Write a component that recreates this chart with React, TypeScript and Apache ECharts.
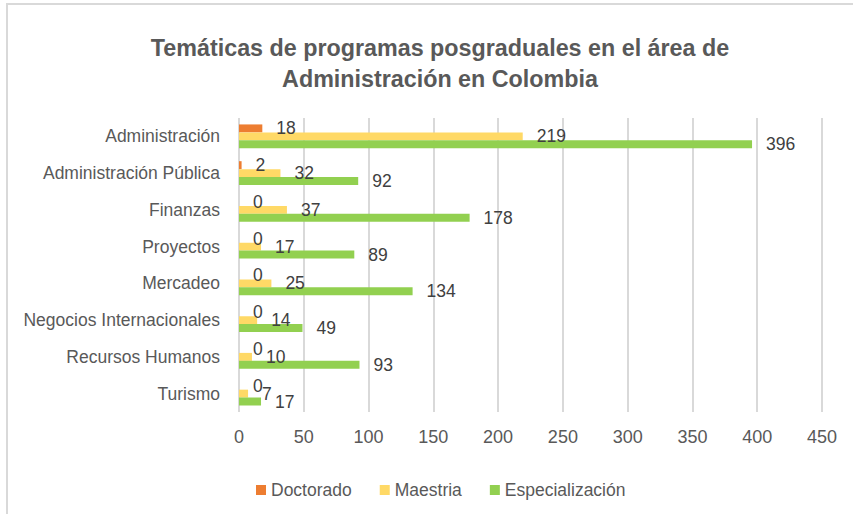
import React, { useEffect, useRef } from "react";
import * as echarts from "echarts";

const categories = [
  "Administración",
  "Administración Pública",
  "Finanzas",
  "Proyectos",
  "Mercadeo",
  "Negocios Internacionales",
  "Recursos Humanos",
  "Turismo",
];
const doctorado = [18, 2, 0, 0, 0, 0, 0, 0];
const maestria = [219, 32, 37, 17, 25, 14, 10, 7];
const especializacion = [396, 92, 178, 89, 134, 49, 93, 17];
const titleText = "Temáticas de programas posgraduales en el área de\nAdministración en Colombia";

const FONT = '"Liberation Sans", Arial, sans-serif';

export default function App() {
  const ref = useRef<HTMLDivElement>(null);
  useEffect(() => {
    if (!ref.current) return;
    const chart = echarts.init(ref.current, null, { renderer: "svg" });
    const label = {
      show: true,
      position: "right" as const,
      distance: 14,
      color: "#404040",
      fontSize: 17.5,
      fontFamily: FONT,
    };
    const mk = (name: string, data: number[], color: string) => ({
      name,
      type: "bar" as const,
      data,
      barGap: "0%",
      barCategoryGap: "35%",
      itemStyle: { color },
      label,
    });
    chart.setOption({
      animation: false,
      backgroundColor: "#ffffff",
      title: {
        text: titleText,
        left: 435,
        top: 27,
        textAlign: "center",
        textStyle: {
          fontFamily: FONT,
          fontSize: 23.3,
          fontWeight: "bold",
          color: "#595959",
          lineHeight: 31,
        },
      },
      graphic: [
        { type: "rect", shape: { x: 6, y: 3, width: 847, height: 2 }, style: { fill: "#D9D9D9" }, silent: true },
        { type: "rect", shape: { x: 6, y: 3, width: 2, height: 511 }, style: { fill: "#D9D9D9" }, silent: true },
      ],
      legend: {
        data: ["Doctorado", "Maestria", "Especialización"],
        left: 251,
        top: 476,
        icon: "rect",
        itemWidth: 10,
        itemHeight: 10,
        itemGap: 28,
        textStyle: { fontFamily: FONT, fontSize: 17.5, color: "#595959" },
      },
      grid: {
        left: 239,
        right: 31,
        top: 118,
        bottom: 102,
        containLabel: false,
        outerBoundsMode: "none",
      },
      xAxis: {
        type: "value",
        min: 0,
        max: 450,
        interval: 50,
        axisLine: { show: false },
        axisTick: { show: false },
        splitLine: { lineStyle: { color: "#D9D9D9", width: 2 } },
        axisLabel: { color: "#595959", fontSize: 18, fontFamily: FONT, margin: 16 },
      },
      yAxis: {
        type: "category",
        data: categories,
        inverse: true,
        axisLine: { show: false },
        axisTick: { show: false },
        axisLabel: { color: "#595959", fontSize: 17.5, fontFamily: FONT, margin: 19 },
      },
      series: [
        mk("Doctorado", doctorado, "#ED7D31"),
        mk("Maestria", maestria, "#FFD966"),
        mk("Especialización", especializacion, "#92D050"),
      ],
    });
    return () => chart.dispose();
  }, []);
  return (
    <div
      ref={ref}
      style={{ position: "fixed", left: 0, top: 0, width: 853, height: 514 }}
    />
  );
}
